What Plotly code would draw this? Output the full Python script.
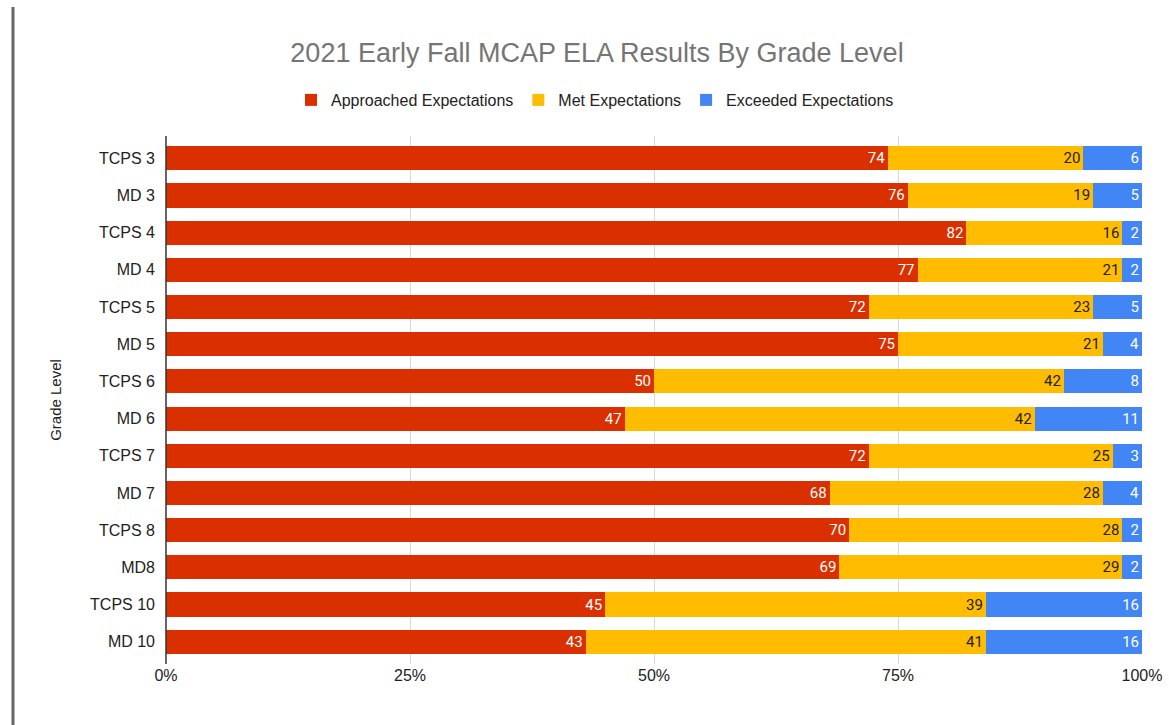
import plotly.graph_objects as go

categories = ["TCPS 3", "MD 3", "TCPS 4", "MD 4", "TCPS 5", "MD 5", "TCPS 6",
              "MD 6", "TCPS 7", "MD 7", "TCPS 8", "MD8", "TCPS 10", "MD 10"]
approached = [74, 76, 82, 77, 72, 75, 50, 47, 72, 68, 70, 69, 45, 43]
met = [20, 19, 16, 21, 23, 21, 42, 42, 25, 28, 28, 29, 39, 41]
exceeded = [6, 5, 2, 2, 5, 4, 8, 11, 3, 4, 2, 2, 16, 16]
x_ticks = [0, 25, 50, 75, 100]
x_tick_labels = ["0%", "25%", "50%", "75%", "100%"]

series = [
    ("Approached Expectations", approached, "#DA3000", "white"),
    ("Met Expectations", met, "#FFBC00", "#222222"),
    ("Exceeded Expectations", exceeded, "#4285F4", "white"),
]

fig = go.Figure()
for name, vals, color, tcolor in series:
    fig.add_trace(go.Bar(
        y=categories, x=vals, name=name, orientation="h",
        marker=dict(color=color, line=dict(width=0)),
        text=[str(v) for v in vals], texttemplate="%{text}",
        textposition="inside", insidetextanchor="end",
        textfont=dict(family="Roboto", size=15, color=tcolor),
        constraintext="none", hoverinfo="skip",
    ))

W, H = 1169, 725
L, R, T, B = 166, 27, 136, 61
pw, ph = W - L - R, H - T - B

def px_x(p):
    return (p - L) / pw

def px_y(p):
    return (H - B - p) / ph

fig.update_layout(
    width=W, height=H,
    barmode="stack", barnorm="percent", bargap=0.35,
    plot_bgcolor="white", paper_bgcolor="white",
    margin=dict(l=L, r=R, t=T, b=B, autoexpand=False),
    font=dict(family="Liberation Sans, Arial", size=16, color="#222222"),
    title=dict(text="2021 Early Fall MCAP ELA Results By Grade Level",
               x=px_x(597), xref="paper", xanchor="center",
               y=1 - 53 / H, yref="container", yanchor="middle",
               font=dict(family="Liberation Sans, Arial", size=27, color="#757575")),
    legend=dict(orientation="h", x=px_x(595), xanchor="center",
                y=px_y(100), yanchor="middle",
                font=dict(family="Liberation Sans, Arial", size=16, color="#222222"),
                traceorder="normal", itemclick=False),
    xaxis=dict(range=[0, 100], tickvals=x_ticks, ticktext=x_tick_labels,
               showgrid=True, gridcolor="#D9D9D9", gridwidth=1,
               zeroline=False, showline=False, ticks="", automargin=False,
               tickfont=dict(size=16, color="#222222"), fixedrange=True),
    yaxis=dict(categoryorder="array", categoryarray=categories,
               range=[13.5 + 0.1, -0.5 - 0.1], automargin=False,
               title=dict(text="Grade Level", standoff=24,
                          font=dict(size=15, color="#222222")),
               ticks="", ticklabelstandoff=10, showgrid=False,
               tickfont=dict(size=16, color="#222222"), fixedrange=True),
    shapes=[
        dict(type="line", xref="paper", yref="paper", x0=0, x1=0, y0=0, y1=1,
             line=dict(color="#333333", width=1.5), layer="above"),
        dict(type="line", xref="paper", yref="paper",
             x0=px_x(13), x1=px_x(13), y0=px_y(7), y1=px_y(725),
             line=dict(color="#666666", width=3)),
    ],
)

fig.write_html("out.html", config={"displayModeBar": False},
               post_script="document.body.style.margin='0';")
